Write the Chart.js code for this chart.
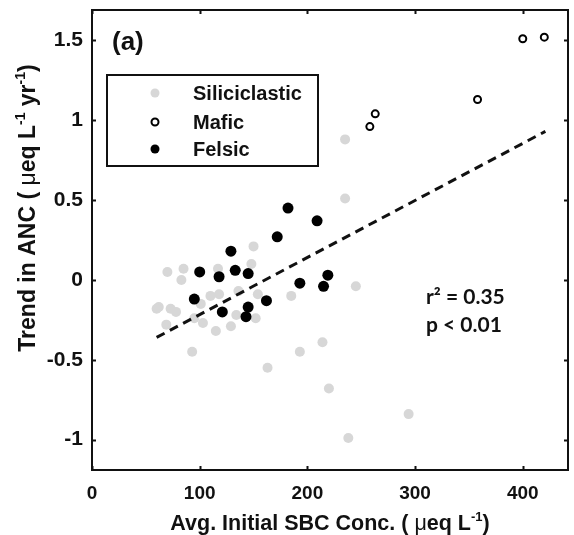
<!DOCTYPE html>
<html>
<head>
<meta charset="utf-8">
<script src="https://cdn.jsdelivr.net/npm/chart.js@4.4.1/dist/chart.umd.min.js"></script>
<style>
  html, body { margin: 0; padding: 0; background: #fff; }
  #wrap { width: 574px; height: 535px; position: relative; }
</style>
</head>
<body>
<div id="wrap"><canvas id="chart" width="574" height="535"></canvas></div>
<script>
// values
const siliX = [235, 235, 150, 70, 85, 83, 117, 148, 185, 62, 73, 69, 110, 118, 136, 154, 101, 134, 152, 103, 115, 129, 95, 93, 163, 193, 214, 220, 238, 294, 245, 78, 60];
const siliY = [0.88, 0.51, 0.21, 0.05, 0.07, 0, 0.07, 0.10, -0.10, -0.17, -0.18, -0.28, -0.10, -0.09, -0.07, -0.09, -0.15, -0.22, -0.24, -0.27, -0.32, -0.29, -0.24, -0.45, -0.55, -0.45, -0.39, -0.68, -0.99, -0.84, -0.04, -0.20, -0.18];

const maficX = [400, 420, 358, 263, 258];
const maficY = [1.51, 1.52, 1.13, 1.04, 0.96];

const felsicX = [182, 209, 172, 129, 100, 118, 133, 145, 219, 193, 215, 95, 162, 121, 145, 143];
const felsicY = [0.45, 0.37, 0.27, 0.18, 0.05, 0.02, 0.06, 0.04, 0.03, -0.02, -0.04, -0.12, -0.13, -0.20, -0.17, -0.23];

// dashed fit line end points
const fitX = [60, 421];
const fitY = [-0.36, 0.93];

const xTicks = [0, 100, 200, 300, 400];
const yTicks = [-1, -0.5, 0, 0.5, 1, 1.5];

const GRAY = "#d7d7d7";
const INK = "#111";
const FONT = "'Liberation Sans', Arial, sans-serif";

function pts(xs, ys) {
  return xs.map((x, i) => ({ x: x, y: ys[i] }));
}

function partFont(p, size) {
  if (p.sup) return "bold " + Math.round(size * 0.62) + "px " + FONT;
  if (p.plain) return size + "px " + FONT;
  return "bold " + size + "px " + FONT;
}

// one line of text with superscripts, centred on x
function richText(ctx, parts, x, y, size) {
  let w = 0;
  parts.forEach(p => {
    ctx.font = partFont(p, size);
    p.w = ctx.measureText(p.t).width;
    w += p.w;
  });
  let cx = x - w / 2;
  ctx.textBaseline = "alphabetic";
  ctx.textAlign = "left";
  parts.forEach(p => {
    ctx.font = partFont(p, size);
    ctx.fillText(p.t, cx, p.sup ? y - size * 0.42 : y);
    cx += p.w;
  });
}

// keep the plot box where the figure has it
function noPad(s) {
  s.paddingTop = 0;
  s.paddingBottom = 0;
  s.paddingLeft = 0;
  s.paddingRight = 0;
}

const decor = {
  id: "decor",
  afterDraw(chart) {
    const ctx = chart.ctx;
    const a = chart.chartArea;
    const xs = chart.scales.x, ys = chart.scales.y;
    ctx.save();

    // frame
    ctx.strokeStyle = INK;
    ctx.lineWidth = 2;
    ctx.strokeRect(a.left, a.top, a.right - a.left, a.bottom - a.top);

    // inward ticks on all four sides
    ctx.beginPath();
    xTicks.forEach(v => {
      const px = Math.round(xs.getPixelForValue(v)) + 0.5;
      ctx.moveTo(px, a.bottom); ctx.lineTo(px, a.bottom - 4);
      ctx.moveTo(px, a.top); ctx.lineTo(px, a.top + 4);
    });
    yTicks.forEach(v => {
      const py = Math.round(ys.getPixelForValue(v)) + 0.5;
      ctx.moveTo(a.left, py); ctx.lineTo(a.left + 4, py);
      ctx.moveTo(a.right, py); ctx.lineTo(a.right - 4, py);
    });
    ctx.stroke();

    ctx.fillStyle = INK;

    // panel label
    ctx.font = "bold 26px " + FONT;
    ctx.textBaseline = "middle";
    ctx.textAlign = "left";
    ctx.fillText("(a)", 112, 43);

    // legend box
    ctx.fillStyle = "#fff";
    ctx.fillRect(107, 75, 211, 91);
    ctx.strokeStyle = INK;
    ctx.lineWidth = 2;
    ctx.strokeRect(107, 75, 211, 91);
    const rows = [93, 122, 149];
    chart.data.datasets.slice(0, 3).forEach((ds, i) => {
      ctx.beginPath();
      ctx.arc(155, rows[i], ds.legendRadius, 0, Math.PI * 2);
      ctx.fillStyle = ds.backgroundColor;
      ctx.fill();
      if (ds.borderWidth) {
        ctx.lineWidth = ds.borderWidth;
        ctx.strokeStyle = ds.borderColor;
        ctx.stroke();
      }
      ctx.fillStyle = INK;
      ctx.font = "bold 20px " + FONT;
      ctx.textBaseline = "middle";
      ctx.textAlign = "left";
      ctx.fillText(ds.label, 193, rows[i] + 1);
    });

    // statistics
    ctx.font = "bold 21px Lato, 'Open Sans', sans-serif";
    ctx.textBaseline = "middle";
    ctx.fillText("r\u00B2 = 0.35", 426, 297);
    ctx.fillText("p < 0.01", 426, 325);

    // axis titles
    richText(ctx, [
      { t: "Avg. Initial SBC Conc. ( " },
      { t: "\u03BC", plain: true },
      { t: "eq L" },
      { t: "-1", sup: true },
      { t: ")" }
    ], (a.left + a.right) / 2, 530, 21.5);

    ctx.save();
    ctx.translate(35, 208);
    ctx.rotate(-Math.PI / 2);
    richText(ctx, [
      { t: "Trend in ANC ( " },
      { t: "\u03BC", plain: true },
      { t: "eq L" },
      { t: "-1", sup: true },
      { t: " yr" },
      { t: "-1", sup: true },
      { t: ")" }
    ], 0, 0, 23);
    ctx.restore();

    ctx.restore();
  }
};

new Chart(document.getElementById("chart"), {
  type: "scatter",
  data: {
    datasets: [
      {
        label: "Siliciclastic",
        data: pts(siliX, siliY),
        backgroundColor: GRAY,
        borderWidth: 0,
        pointRadius: 5,
        legendRadius: 4.5,
        order: 4
      },
      {
        label: "Mafic",
        data: pts(maficX, maficY),
        backgroundColor: "#fff",
        borderColor: "#000",
        borderWidth: 2,
        pointRadius: 3.5,
        legendRadius: 3.5,
        order: 2
      },
      {
        label: "Felsic",
        data: pts(felsicX, felsicY),
        backgroundColor: "#000",
        borderWidth: 0,
        pointRadius: 5.5,
        legendRadius: 4.5,
        order: 1
      },
      {
        type: "line",
        label: "fit",
        data: pts(fitX, fitY),
        borderColor: "#111",
        borderWidth: 3,
        borderDash: [9, 6],
        pointRadius: 0,
        fill: false,
        order: 3
      }
    ]
  },
  options: {
    responsive: false,
    animation: false,
    events: [],
    layout: { padding: { top: 10, right: 0, left: 0, bottom: 0 } },
    plugins: {
      legend: { display: false },
      tooltip: { enabled: false }
    },
    scales: {
      x: {
        type: "linear",
        min: 0,
        max: 442,
        afterBuildTicks: s => { s.ticks = xTicks.map(v => ({ value: v })); },
        afterFit: s => { s.height = 65; noPad(s); },
        grid: { display: false, drawTicks: false },
        border: { display: false },
        ticks: {
          padding: 12,
          color: INK,
          font: { family: FONT, size: 19, weight: "bold" },
          callback: v => String(v)
        }
      },
      y: {
        type: "linear",
        min: -1.19,
        max: 1.69,
        afterBuildTicks: s => { s.ticks = yTicks.map(v => ({ value: v })); },
        afterFit: s => { s.width = 92; noPad(s); },
        grid: { display: false, drawTicks: false },
        border: { display: false },
        ticks: {
          padding: 9,
          color: INK,
          font: { family: FONT, size: 21, weight: "bold" },
          callback: v => String(v)
        }
      }
    }
  },
  plugins: [decor]
});
</script>
</body>
</html>
